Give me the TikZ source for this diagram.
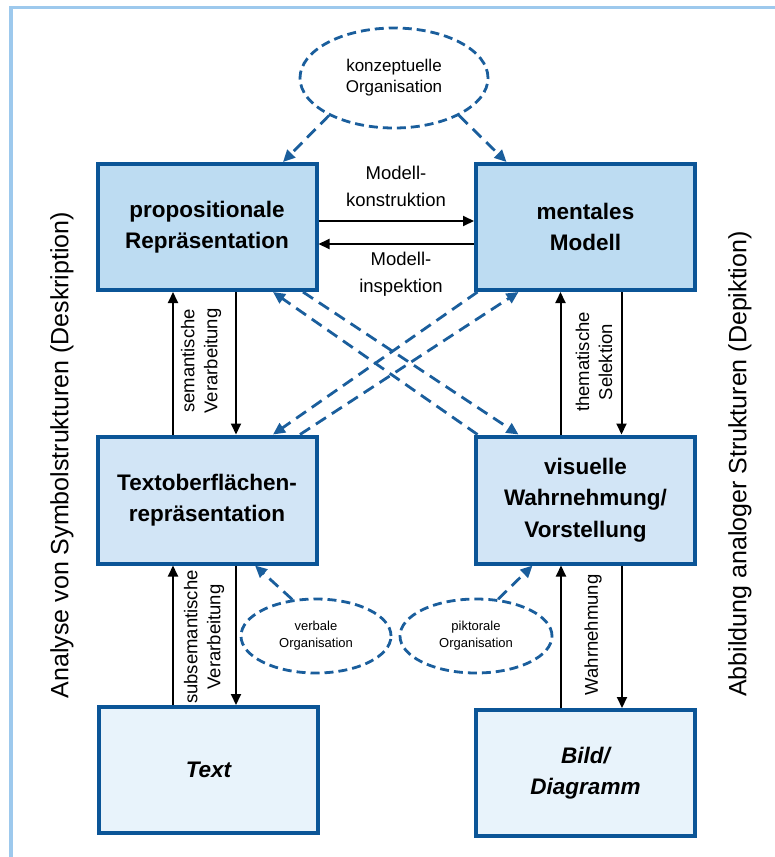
\documentclass[tikz,border=0pt]{standalone}
\usepackage{fontspec}
\setmainfont{Liberation Sans}
\usetikzlibrary{arrows.meta,shapes.geometric}

\definecolor{boxline}{HTML}{0B5597}
\definecolor{dashline}{HTML}{1A5E9C}
\definecolor{fillA}{HTML}{BDDCF2}
\definecolor{fillB}{HTML}{D2E5F6}
\definecolor{fillC}{HTML}{E8F3FB}
\definecolor{framecol}{HTML}{9DC9ED}

\begin{document}
\begin{tikzpicture}[x=1pt,y=-1pt,
  box/.style={draw=boxline, line width=4pt, minimum width=219pt,
    minimum height=126pt, align=center, inner sep=0pt,
    font=\fontsize{22.5}{31.5}\selectfont\bfseries},
  orgell/.style={ellipse, draw=dashline, line width=2.8pt,
    dash pattern=on 9pt off 5pt, align=center, inner sep=0pt},
  arr/.style={draw=black, line width=2pt,
    -{Triangle[length=11pt,width=10pt]}},
  darr/.style={draw=dashline, line width=2.8pt,
    dash pattern=on 12pt off 7pt,
    -{Triangle[length=12pt,width=11pt]}},
  lab/.style={align=center, inner sep=0pt,
    font=\fontsize{18.5}{27}\selectfont},
  vlab/.style={rotate=90, align=center, inner sep=0pt,
    font=\fontsize{18.5}{23}\selectfont},
  sidelab/.style={rotate=90, inner sep=0pt,
    font=\fontsize{25}{30}\selectfont}]

\useasboundingbox (0,0) rectangle (774,857);

% outer frame (top and left edges)
\draw[framecol, line width=3.5pt] (11,860) -- (11,7.5) -- (780,7.5);

% boxes
\node[box, fill=fillA] (PR) at (207,227) {propositionale\\Repräsentation};
\node[box, fill=fillA] (MM) at (585.5,227) {mentales\\Modell};
\node[box, fill=fillB, minimum height=127pt] (TO) at (207,500) {Textoberflächen-\\repräsentation};
\node[box, fill=fillB, minimum height=127pt] (VW) at (585.5,500) {visuelle\\Wahrnehmung/\\Vorstellung};
\node[box, fill=fillC, minimum height=126pt, font=\fontsize{22.5}{31.5}\selectfont\bfseries\itshape] (TX) at (208.5,770) {Text};
\node[box, fill=fillC, minimum height=126pt, font=\fontsize{22.5}{31.5}\selectfont\bfseries\itshape] (BD) at (585.5,773) {Bild/\\Diagramm};

% organisation ellipses
\node[orgell, minimum width=188pt, minimum height=100pt,
  font=\fontsize{17}{21}\selectfont] (KO) at (394,78) {konzeptuelle\\Organisation};
\node[orgell, minimum width=150pt, minimum height=74pt,
  font=\fontsize{13}{17}\selectfont] (VO) at (316,636) {verbale\\Organisation};
\node[orgell, minimum width=152pt, minimum height=74pt,
  font=\fontsize{13}{17}\selectfont] (PO) at (476,636) {piktorale\\Organisation};

% model construction / inspection
\draw[arr] ([yshift=6pt]PR.east) -- ([yshift=6pt]MM.west);
\draw[arr] ([yshift=-17pt]MM.east -| MM.west) -- ([yshift=-17pt]PR.east);
\node[lab] (mk) at (396,186) {Modell-\\konstruktion};
\node[lab] (mi) at (401,274) {Modell-\\inspektion};

% vertical processing arrows
\draw[arr] ([xshift=-34pt]TO.north) -- ([xshift=-34pt]PR.south);
\draw[arr] ([xshift=29pt]PR.south) -- ([xshift=29pt]TO.north);
\draw[arr] ([xshift=-25pt]VW.north) -- ([xshift=-25pt]MM.south);
\draw[arr] ([xshift=36pt]MM.south) -- ([xshift=36pt]VW.north);
\draw[arr] ([xshift=-35.5pt]TX.north) -- ([xshift=-34pt]TO.south);
\draw[arr] ([xshift=29pt]TO.south) -- ([xshift=27.5pt]TX.north);
\draw[arr] ([xshift=-24.5pt]BD.north) -- ([xshift=-24.5pt]VW.south);
\draw[arr] ([xshift=36.5pt]VW.south) -- ([xshift=36.5pt]BD.north);

\node[vlab] (sv) at (201,361) {semantische\\Verarbeitung};
\node[vlab] (ts) at (594,362) {thematische\\Selektion};
\node[vlab] (ssv) at (204,637) {subsemantische\\Verarbeitung};
\node[vlab] (wn) at (593,635) {Wahrnehmung};

% crossing dashed arrows
\draw[darr] ([xshift=96pt]PR.south) -- ([xshift=-67pt]VW.north);
\draw[darr] ([xshift=-108pt]VW.north) -- ([xshift=66pt]PR.south);
\draw[darr] ([xshift=-108pt]MM.south) -- ([xshift=66pt]TO.north);
\draw[darr] ([xshift=93pt]TO.north) -- ([xshift=-67pt]MM.south);

% organisation arrows
\draw[darr] (KO.210) -- ([xshift=76pt]PR.north);
\draw[darr] (KO.330) -- ([xshift=-79pt]MM.north);
\draw[darr] (VO.123) -- ([xshift=48pt]TO.south);
\draw[darr] (PO.59) -- ([xshift=-53pt]VW.south);

% side captions
\node[sidelab] (lcap) at (62,455) {Analyse von Symbolstrukturen (Deskription)};
\node[sidelab] (rcap) at (740,464) {Abbildung analoger Strukturen (Depiktion)};
\end{tikzpicture}
\end{document}
